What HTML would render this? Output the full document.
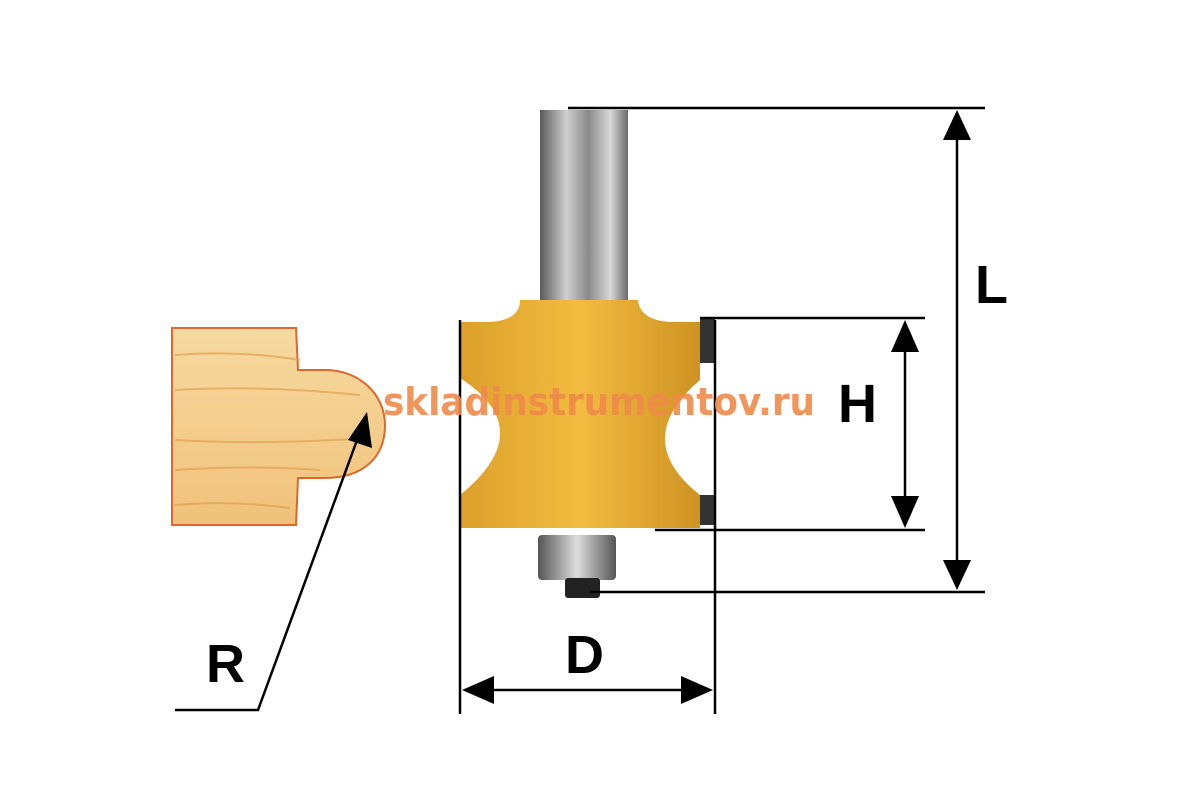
<!DOCTYPE html>
<html><head><style>body{margin:0;background:#fff}svg{display:block}</style></head><body>
<svg width="1200" height="800" viewBox="0 0 1200 800" xmlns="http://www.w3.org/2000/svg">
<defs>
<linearGradient id="sh" x1="0" x2="1"><stop offset="0" stop-color="#5a5a5a"/><stop offset=".3" stop-color="#cfcfcf"/><stop offset=".55" stop-color="#8a8a8a"/><stop offset=".8" stop-color="#d8d8d8"/><stop offset="1" stop-color="#6a6a6a"/></linearGradient>
<linearGradient id="or" x1="0" x2="1"><stop offset="0" stop-color="#dca02a"/><stop offset=".5" stop-color="#f2bc40"/><stop offset="1" stop-color="#cf9222"/></linearGradient>
<linearGradient id="wd" x1="0" y1="0" x2="0" y2="1"><stop offset="0" stop-color="#f7d9a0"/><stop offset="1" stop-color="#f0c27a"/></linearGradient>
<linearGradient id="br" x1="0" x2="1"><stop offset="0" stop-color="#555"/><stop offset=".5" stop-color="#ddd"/><stop offset="1" stop-color="#555"/></linearGradient>
</defs>
<path d="M172,328 L296,328 L298,370 L325,370 C360,370 385,395 385,425 C385,460 360,478 325,478 L298,478 L296,525 L172,525 Z" fill="url(#wd)" stroke="#e0662a" stroke-width="2"/>
<g stroke="#e2a050" stroke-width="2" opacity=".7" fill="none">
<path d="M175,355 Q240,350 300,360"/><path d="M175,390 Q260,385 360,395"/><path d="M175,440 Q260,445 370,438"/><path d="M175,470 Q250,465 320,470"/><path d="M175,505 Q230,500 290,508"/></g>
<rect x="540" y="110" width="88" height="210" fill="url(#sh)"/>
<path d="M520,300 Q520,320 490,322 L460,322 L460,378 Q540,430 460,495 L460,528 L700,528 L700,495 Q630,440 700,380 L700,322 L670,322 Q640,320 638,300 Z" fill="url(#or)"/>
<rect x="700" y="318" width="15" height="45" fill="#333"/>
<rect x="700" y="495" width="15" height="30" fill="#333"/>
<rect x="538" y="535" width="78" height="45" rx="4" fill="url(#br)"/>
<rect x="565" y="578" width="35" height="20" rx="3" fill="#222"/>
<g stroke="#000" stroke-width="2.5" fill="none">
<line x1="568" y1="108" x2="985" y2="108"/>
<line x1="590" y1="592" x2="985" y2="592"/>
<line x1="957" y1="130" x2="957" y2="572"/>
<line x1="700" y1="318" x2="925" y2="318"/>
<line x1="655" y1="530" x2="925" y2="530"/>
<line x1="905" y1="340" x2="905" y2="508"/>
<line x1="460" y1="320" x2="460" y2="714"/>
<line x1="715" y1="320" x2="715" y2="714"/>
<line x1="480" y1="690" x2="695" y2="690"/>
<polyline points="175,710 258,710 360,432"/>
</g>
<g fill="#000">
<polygon points="957,110 943,140 971,140"/><polygon points="957,590 943,560 971,560"/>
<polygon points="905,320 891,352 919,352"/><polygon points="905,528 891,496 919,496"/>
<polygon points="462,690 494,676 494,704"/><polygon points="713,690 681,676 681,704"/>
<polygon points="367,412 348,440 372,448"/>
</g>
<g font-family="Liberation Sans, sans-serif" font-weight="bold" font-size="54" fill="#000">
<text x="975" y="303">L</text><text x="838" y="422">H</text><text x="565" y="673">D</text><text x="206" y="682">R</text>
</g>
<text x="383" y="415" font-family="DejaVu Sans, sans-serif" font-size="38" font-weight="bold" textLength="432" lengthAdjust="spacingAndGlyphs" fill="#f08a4a" opacity=".9">skladinstrumentov.ru</text>
</svg>
</body></html>
